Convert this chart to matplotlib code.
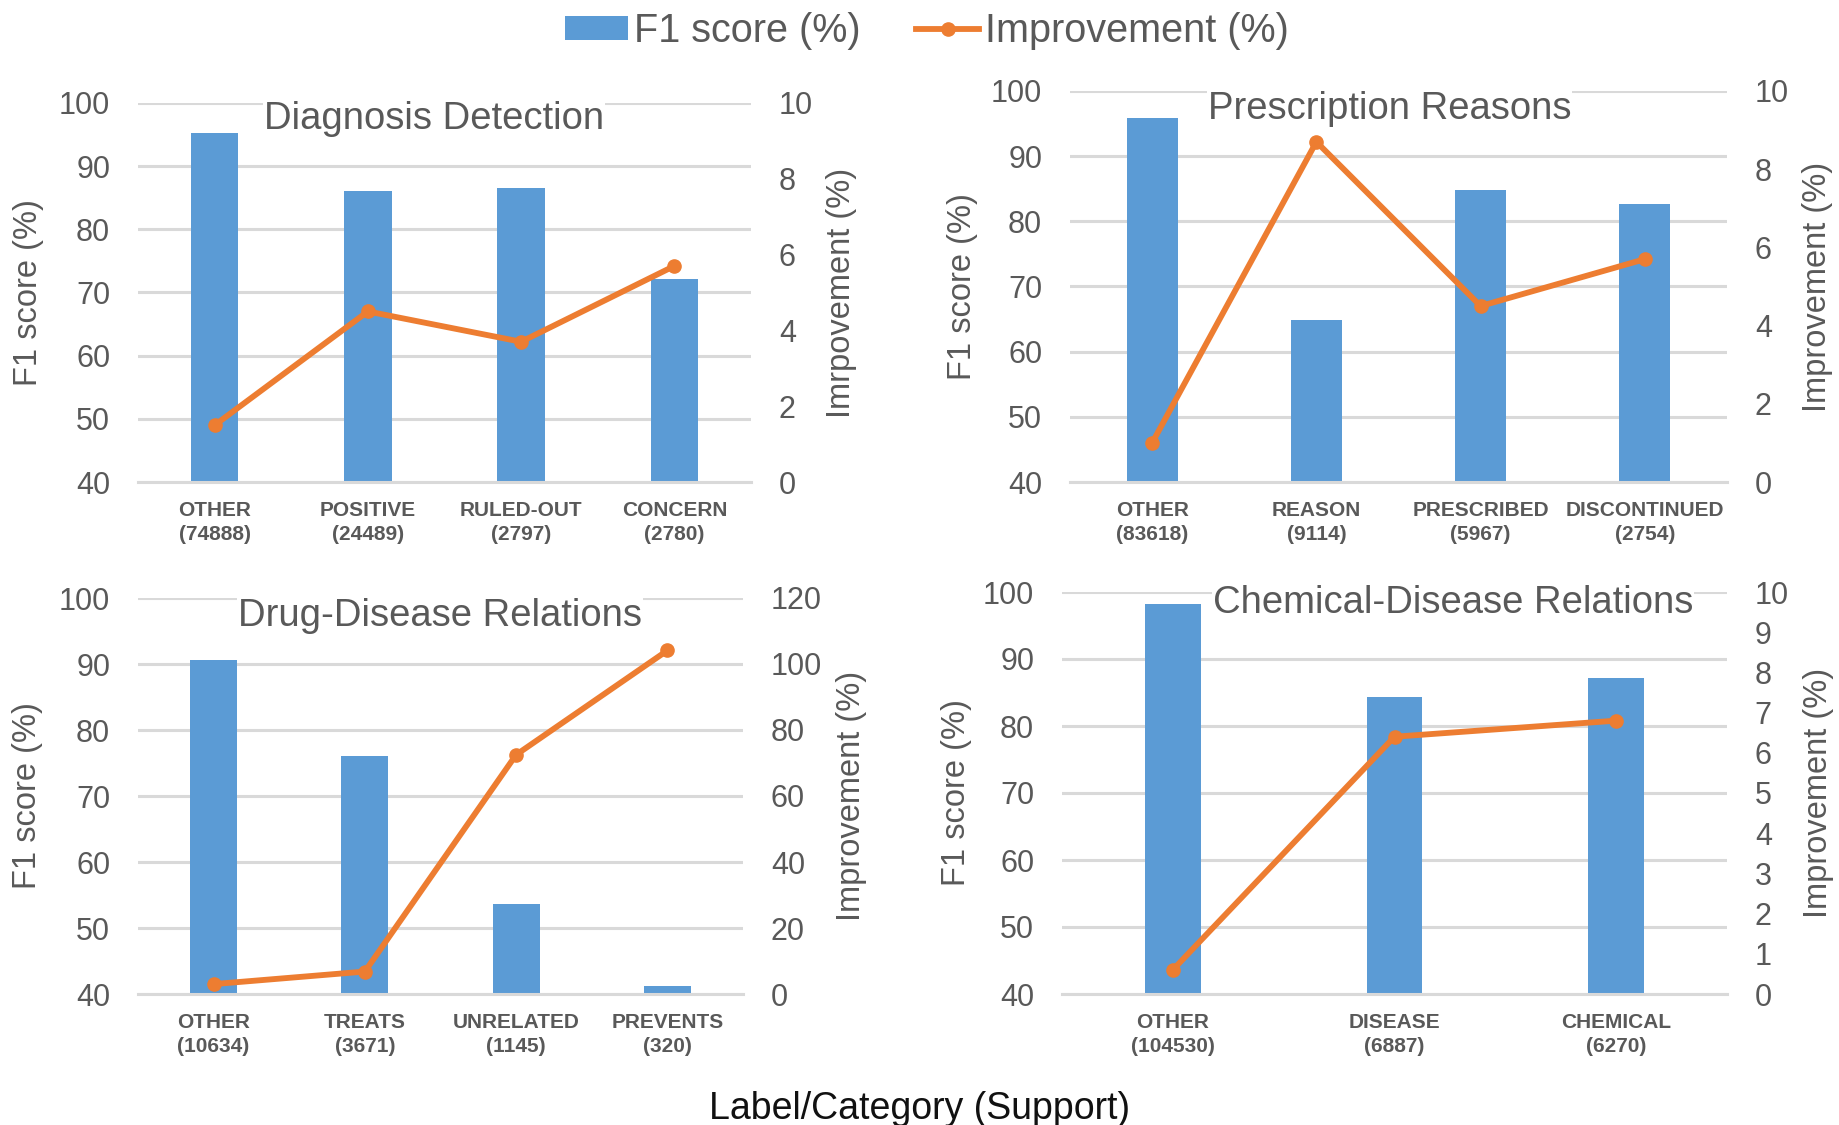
import matplotlib
matplotlib.use("Agg")
import matplotlib.pyplot as plt
from matplotlib.patches import Patch
from matplotlib.lines import Line2D

plt.rcParams['font.family'] = ['Liberation Sans', 'DejaVu Sans']

BLUE = '#5B9BD5'
ORANGE = '#ED7D31'
GRID = '#D9D9D9'
TEXT = '#595959'

# Diagnosis Detection
dd_labels = ['OTHER', 'POSITIVE', 'RULED-OUT', 'CONCERN']
dd_support = [74888, 24489, 2797, 2780]
dd_f1 = [95.3, 86.1, 86.6, 72.2]
dd_impr = [1.5, 4.5, 3.7, 5.7]

# Prescription Reasons
pr_labels = ['OTHER', 'REASON', 'PRESCRIBED', 'DISCONTINUED']
pr_support = [83618, 9114, 5967, 2754]
pr_f1 = [95.8, 64.8, 84.8, 82.7]
pr_impr = [1.0, 8.7, 4.5, 5.7]

# Drug-Disease Relations
ddr_labels = ['OTHER', 'TREATS', 'UNRELATED', 'PREVENTS']
ddr_support = [10634, 3671, 1145, 320]
ddr_f1 = [90.6, 76.0, 53.7, 41.2]
ddr_impr = [3.0, 6.8, 72.5, 104.1]

# Chemical-Disease Relations
cdr_labels = ['OTHER', 'DISEASE', 'CHEMICAL']
cdr_support = [104530, 6887, 6270]
cdr_f1 = [98.2, 84.3, 87.1]
cdr_impr = [0.6, 6.4, 6.8]

W, H = 1839, 1125
fig = plt.figure(figsize=(W / 100, H / 100), dpi=100)

LINE_W = 4.2
MARK_S = 9.5


def px_axes(left, top, right, bottom):
    return fig.add_axes([left / W, 1 - bottom / H, (right - left) / W, (bottom - top) / H])


def panel(box, title, title_xy, labels, support, f1, impr, rmax, rstep,
          right_label, bar_width, ylab_x, rlab_x):
    ax = px_axes(*box)
    x = list(range(len(labels)))
    ax.bar(x, f1, width=bar_width, color=BLUE, zorder=2)
    ax.set_xlim(-0.5, len(labels) - 0.5)
    ax.set_ylim(40, 100)
    ax.set_yticks(range(40, 101, 10))
    ax.yaxis.grid(True, color=GRID, linewidth=2.2)
    ax.set_axisbelow(True)
    for s in ('top', 'left', 'right'):
        ax.spines[s].set_visible(False)
    ax.spines['bottom'].set_color(GRID)
    ax.spines['bottom'].set_linewidth(2.2)
    ax.set_xticks(x)
    ax.set_xticklabels([f'{l}\n({s})' for l, s in zip(labels, support)],
                       fontsize=15, fontweight='bold', color=TEXT, linespacing=1.3)
    ax.tick_params(axis='x', length=0, pad=14)
    ax.tick_params(axis='y', length=0, pad=20, labelsize=22, labelcolor=TEXT)
    ax.set_ylabel('F1 score (%)', fontsize=23.5, color=TEXT)
    ax.yaxis.label.set_verticalalignment('center')
    ax.yaxis.set_label_coords(ylab_x, 0.5)
    ax.text(title_xy[0], title_xy[1], title, transform=ax.transAxes,
            ha='center', va='center', fontsize=27.5, color=TEXT, zorder=5,
            bbox=dict(facecolor='white', edgecolor='none', pad=0.5))

    ax2 = ax.twinx()
    ax2.plot(x, impr, color=ORANGE, linewidth=LINE_W, marker='o', markersize=MARK_S,
             solid_capstyle='round', zorder=3)
    ax2.set_ylim(0, rmax)
    ax2.set_yticks(range(0, rmax + 1, rstep))
    for s in ax2.spines.values():
        s.set_visible(False)
    ax2.tick_params(axis='y', length=0, pad=20, labelsize=22, labelcolor=TEXT)
    ax2.set_ylabel(right_label, fontsize=23.5, color=TEXT)
    ax2.yaxis.label.set_verticalalignment('center')
    ax2.yaxis.set_label_coords(rlab_x, 0.5)
    return ax, ax2


panel((138, 103, 751, 482), 'Diagnosis Detection', (0.483, 0.958),
      dd_labels, dd_support, dd_f1, dd_impr, 10, 2, 'Imrpovement (%)', 0.31,
      -0.179, 1.148)
panel((1070, 91, 1727, 482), 'Prescription Reasons', (0.486, 0.955),
      pr_labels, pr_support, pr_f1, pr_impr, 10, 2, 'Improvement (%)', 0.31,
      -0.164, 1.138)
panel((138, 598, 743, 994), 'Drug-Disease Relations', (0.499, 0.955),
      ddr_labels, ddr_support, ddr_f1, ddr_impr, 120, 20, 'Improvement (%)', 0.31,
      -0.182, 1.18)
panel((1062, 592, 1727, 994), 'Chemical-Disease Relations', (0.588, 0.972),
      cdr_labels, cdr_support, cdr_f1, cdr_impr, 10, 1, 'Improvement (%)', 0.25,
      -0.159, 1.137)

fig.text(0.5, 1 - 1109 / H, 'Label/Category (Support)', ha='center', va='center',
         fontsize=27, color='#111111')

handles = [Patch(facecolor=BLUE, edgecolor='none'),
           Line2D([0], [0], color=ORANGE, linewidth=LINE_W, marker='o', markersize=MARK_S)]
fig.legend(handles, ['F1 score (%)', 'Improvement (%)'], loc='center',
           bbox_to_anchor=(0.504, 1 - 31 / H), ncol=2, frameon=False,
           fontsize=28.5, labelcolor=TEXT, handlelength=1.6, handleheight=0.55,
           handletextpad=0.15, columnspacing=1.4)

fig.savefig('out.png', dpi=100, facecolor='white')
